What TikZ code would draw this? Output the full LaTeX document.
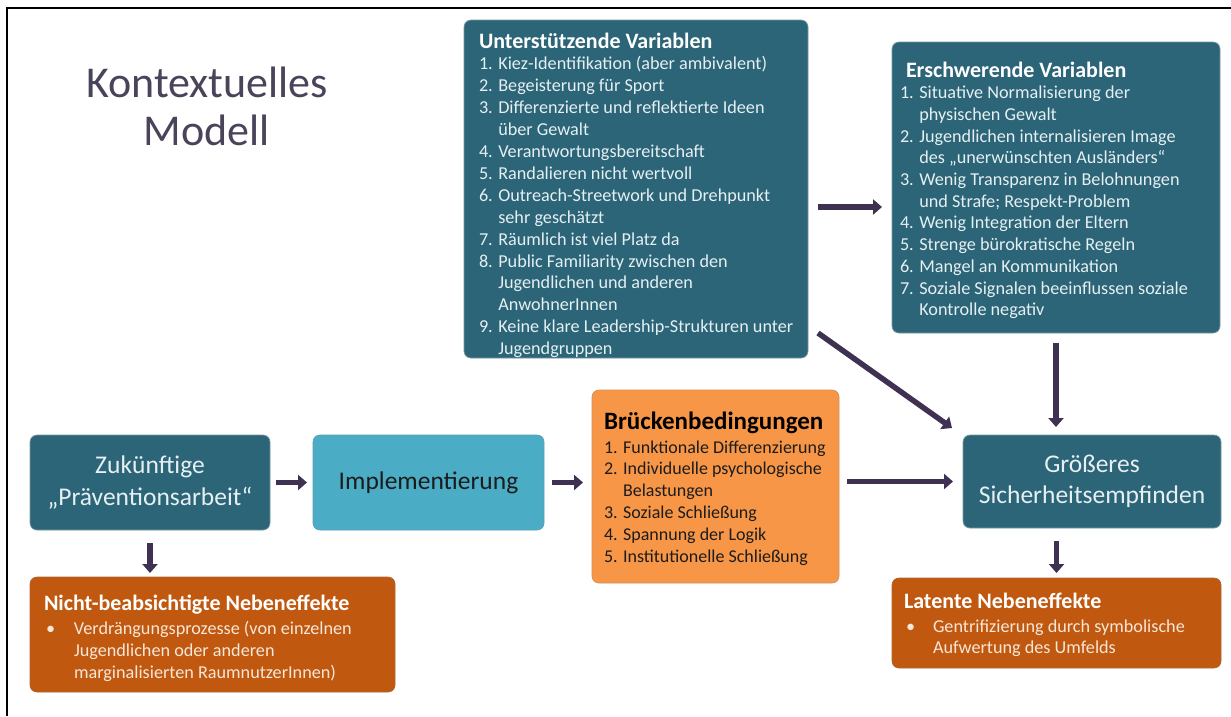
\documentclass[tikz,border=0pt]{standalone}
\usepackage{fontspec}
\setmainfont{Carlito}
\usetikzlibrary{arrows.meta}
\definecolor{boxteal}{HTML}{2B6577}
\definecolor{boxlight}{HTML}{4BACC6}
\definecolor{boxorange}{HTML}{F79646}
\definecolor{boxbrown}{HTML}{C0590F}
\definecolor{arrowpurple}{HTML}{3F3151}
\definecolor{titlecol}{HTML}{4A4359}
\definecolor{paletext}{HTML}{E6EFF2}
\definecolor{peachtext}{HTML}{F8E6D8}
\definecolor{darktext}{HTML}{1C1C1C}
\newcommand{\fs}[2]{\fontsize{#1}{#2}\selectfont}
\newcommand{\ind}{\hphantom{0. }}
\newcommand{\tstr}{\rule{0pt}{19pt}}
\begin{document}
\begin{tikzpicture}[x=1pt,y=-1pt,
  box/.style={rounded corners=7pt, anchor=north west, inner sep=0pt, outer sep=0pt, line width=0.7pt},
  tealbox/.style={box, fill=boxteal, draw=boxteal!75!gray!70!white},
  lightbox/.style={box, fill=boxlight, draw=boxlight!75!gray},
  orangebox/.style={box, fill=boxorange, draw=boxorange!70!gray},
  brownbox/.style={box, fill=boxbrown, draw=boxbrown!70!gray},
  listtext/.style={inner sep=0pt, outer sep=0pt, anchor=north west, align=left},
  arr/.style={draw=arrowpurple, line width=5.5pt, -{Triangle[length=9pt,width=15pt]}}
]
\useasboundingbox (0,0) rectangle (1231,716);
\fill[white] (0,0) rectangle (1231,716);
\draw[line width=2pt] (7,716) -- (7,8) -- (1231,8);

% title
\node[inner sep=0pt, anchor=north, align=center, text=titlecol, font=\fs{44}{48}] (title) at (207,66)
  {\rule{0pt}{31pt}Kontextuelles\\Modell};

% boxes
\node[tealbox, minimum width=344pt, minimum height=338pt] (ub) at (464,20) {};
\node[tealbox, minimum width=328pt, minimum height=291pt] (eb) at (892,42) {};
\node[tealbox, minimum width=240pt, minimum height=95pt, align=center, text=paletext, font=\fs{25.5}{32}] (zk) at (30,435)
  {Zukünftige\\„Präventionsarbeit“};
\node[lightbox, minimum width=231pt, minimum height=95pt, text=darktext, font=\fs{25.5}{29}] (impl) at (313,435)
  {Implementierung};
\node[orangebox, minimum width=247pt, minimum height=193pt] (br) at (592,390) {};
\node[tealbox, minimum width=258pt, minimum height=93pt, align=center, text=paletext, font=\fs{25.5}{31}] (gr) at (963,435)
  {Größeres\\Sicherheitsempfinden};
\node[brownbox, minimum width=365pt, minimum height=115pt] (nb) at (30,577) {};
\node[brownbox, minimum width=329pt, minimum height=90pt] (lat) at (892,578) {};

% texts
\node[listtext, text=paletext, font=\fs{18.2}{21.9}] (ubt) at (479,29)
 {{\fs{22}{21.9}\bfseries\color{white}\tstr Unterstützende Variablen}\\
  1. Kiez-Identifikation (aber ambivalent)\\
  2. Begeisterung für Sport\\
  3. Differenzierte und reflektierte Ideen\\
  \ind über Gewalt\\
  4. Verantwortungsbereitschaft\\
  5. Randalieren nicht wertvoll\\
  6. Outreach-Streetwork und Drehpunkt\\
  \ind sehr geschätzt\\
  7. Räumlich ist viel Platz da\\
  8. Public Familiarity zwischen den\\
  \ind Jugendlichen und anderen\\
  \ind AnwohnerInnen\\
  9. Keine klare Leadership-Strukturen unter\\
  \ind Jugendgruppen};

\node[listtext, text=paletext, font=\fs{18.2}{21.7}] (ebt) at (900,58)
 {\hspace*{6pt}{\fs{22}{21.7}\bfseries\color{white}\tstr Erschwerende Variablen}\\
  1. Situative Normalisierung der\\
  \ind physischen Gewalt\\
  2. Jugendlichen internalisieren Image\\
  \ind des „unerwünschten Ausländers“\\
  3. Wenig Transparenz in Belohnungen\\
  \ind und Strafe; Respekt-Problem\\
  4. Wenig Integration der Eltern\\
  5. Strenge bürokratische Regeln\\
  6. Mangel an Kommunikation\\
  7. Soziale Signalen beeinflussen soziale\\
  \ind Kontrolle negativ};

\node[listtext, text=darktext, font=\fs{18}{21.8}] (brt) at (604,408)
 {{\fs{25}{21.8}\bfseries\color{black}\rule{0pt}{21pt}Brückenbedingungen}\\[2.2pt]
  1. Funktionale Differenzierung\\
  2. Individuelle psychologische\\
  \ind Belastungen\\
  3. Soziale Schließung\\
  4. Spannung der Logik\\
  5. Institutionelle Schließung};

\node[listtext, text=peachtext, font=\fs{18.2}{22}] (nbt) at (44,591)
 {{\fs{22}{22}\bfseries\color{white}\tstr Nicht-beabsichtigte Nebeneffekte}\\[2pt]
  \hspace*{2pt}\makebox[28pt][l]{•}Verdrängungsprozesse (von einzelnen\\
  \hspace*{30pt}Jugendlichen oder anderen\\
  \hspace*{30pt}marginalisierten RaumnutzerInnen)};

\node[listtext, text=peachtext, font=\fs{18.2}{21}] (latt) at (904,589)
 {{\fs{22}{21}\bfseries\color{white}\tstr Latente Nebeneffekte}\\[3pt]
  \hspace*{2pt}\makebox[27pt][l]{•}Gentrifizierung durch symbolische\\
  \hspace*{29pt}Aufwertung des Umfelds};

% arrows
\draw[arr, shorten <=6pt, shorten >=6pt] (zk.east) -- (impl.west);
\draw[arr, shorten <=8pt, shorten >=9pt] (impl.east |- zk.east) -- (impl.east -| br.west);
\draw[arr, shorten <=8pt, shorten >=10pt] (br.east |- gr.west) -- (gr.west);
\draw[arr, shorten <=13pt, shorten >=4pt] (zk.south) -- (zk.south |- nb.north);
\draw[arr, shorten <=13pt, shorten >=5pt] (lat.north |- gr.south) -- (lat.north);
\draw[arr, shorten <=10pt, shorten >=8pt] (eb.south) -- (eb.south |- gr.north);
\draw[arr, shorten <=10pt, shorten >=10pt] ([yshift=-18pt]ub.east) -- ([yshift=-18pt]ub.east -| eb.west);
\draw[arr] ([xshift=10pt,yshift=25pt]ub.south east) -- ([xshift=-11pt,yshift=7pt]gr.north west);
\end{tikzpicture}
\end{document}
